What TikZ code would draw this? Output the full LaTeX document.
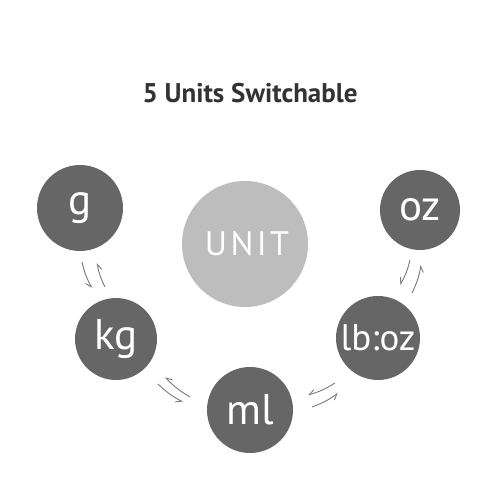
\documentclass[tikz,border=0pt]{standalone}
\usepackage{fontspec}
\setmainfont{PT Sans}
\usetikzlibrary{arrows.meta}
\definecolor{dark}{HTML}{666666}
\definecolor{light}{HTML}{BDBDBD}
\definecolor{arr}{HTML}{7A7A7A}
\definecolor{ttl}{HTML}{333333}
\tikzset{
  dk/.style={circle, fill=dark, text=white, inner sep=0pt, font=\fontsize{43}{43}\selectfont},
  harp/.style={draw=arr, line width=0.9pt, -{Straight Barb[harpoon,swap,length=5.5pt,width=7pt]}},
}
\begin{document}
\begin{tikzpicture}[x=1pt,y=1pt]
\useasboundingbox (0,0) rectangle (500,500);
\fill[white] (0,0) rectangle (500,500);
\node[anchor=base, text=ttl, font=\fontsize{27}{27}\selectfont\bfseries] (title) at (250,397) {5 Units Switchable};
\node[circle, fill=light, minimum size=126pt, inner sep=0pt] (unit) at (245,256) {};
\node[text=white, font=\fontsize{34}{34}\selectfont\addfontfeature{LetterSpace=10}, xshift=2pt] (unitlabel) at (unit) {UNIT};
\node[dk, minimum size=86pt] (g) at (80,292) {g};
\node[dk, minimum size=80pt] (oz) at (420,290) {oz};
\node[dk, minimum size=82pt] (kg) at (116,161) {kg};
\node[dk, minimum size=84pt, font=\fontsize{37}{37}\selectfont] (lboz) at (378,162) {lb:oz};
\node[dk, minimum size=86pt] (ml) at (250,90) {ml};
% arrow end points
\coordinate (a1) at (82,238); \coordinate (a2) at (92,212);
\coordinate (a3) at (105,213); \coordinate (a4) at (97,237);
\coordinate (b1) at (190,103); \coordinate (b2) at (165,123);
\coordinate (b3) at (158,116); \coordinate (b4) at (183,98);
\coordinate (c1) at (335,117); \coordinate (c2) at (308,105);
\coordinate (c3) at (312,93); \coordinate (c4) at (338,107);
\coordinate (d1) at (410,240); \coordinate (d2) at (400,215);
\coordinate (d3) at (412,207); \coordinate (d4) at (421,235);
\draw[harp] (a1) to[bend right=8] (a2);
\draw[harp] (a3) to[bend left=8] (a4);
\draw[harp] (b1) to[bend left=8] (b2);
\draw[harp] (b3) to[bend right=8] (b4);
\draw[harp] (c1) to[bend left=8] (c2);
\draw[harp] (c3) to[bend right=8] (c4);
\draw[harp] (d1) to[bend left=8] (d2);
\draw[harp] (d3) to[bend right=8] (d4);
\end{tikzpicture}
\end{document}
